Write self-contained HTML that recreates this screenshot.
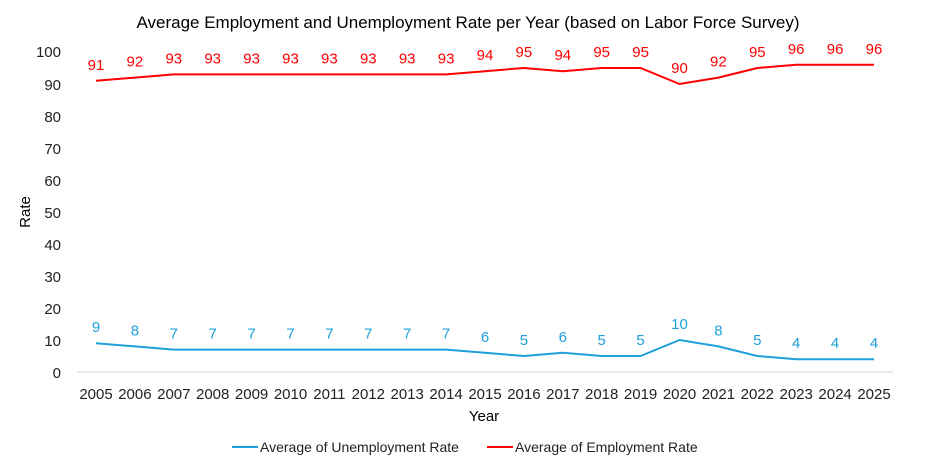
<!DOCTYPE html>
<html><head><style>body{margin:0;background:#fff}svg{display:block}</style></head><body>
<svg width="936" height="464" xmlns="http://www.w3.org/2000/svg" font-family="Liberation Sans, Arial, sans-serif">
<rect width="936" height="464" fill="#fff"/>
<text x="468" y="28" text-anchor="middle" font-size="17" fill="#000">Average Employment and Unemployment Rate per Year (based on Labor Force Survey)</text>
<g font-size="15" fill="#222" text-anchor="end">
<text x="61" y="57">100</text><text x="61" y="90">90</text><text x="61" y="122">80</text><text x="61" y="154">70</text><text x="61" y="186">60</text><text x="61" y="218">50</text><text x="61" y="250">40</text><text x="61" y="282">30</text><text x="61" y="314">20</text><text x="61" y="346">10</text><text x="61" y="378">0</text>
</g>
<text transform="translate(30,212) rotate(-90)" text-anchor="middle" font-size="15" fill="#000">Rate</text>
<line x1="77" y1="372" x2="893" y2="372" stroke="#d0d0d0" stroke-width="1"/>
<g id="yrs" font-size="15" fill="#222" text-anchor="middle"></g>
<text x="484" y="421" text-anchor="middle" font-size="15" fill="#000">Year</text>
<polyline id="emp" fill="none" stroke="#ff0000" stroke-width="2"/>
<polyline id="une" fill="none" stroke="#1fa0db" stroke-width="2"/>
<g id="el" font-size="15" fill="#ff0000" text-anchor="middle"></g>
<g id="ul" font-size="15" fill="#1fa0db" text-anchor="middle"></g>
<line x1="232" y1="447" x2="258" y2="447" stroke="#1fa0db" stroke-width="2"/>
<text x="260" y="452" font-size="14" fill="#222">Average of Unemployment Rate</text>
<line x1="487" y1="447" x2="513" y2="447" stroke="#ff0000" stroke-width="2"/>
<text x="515" y="452" font-size="14" fill="#222">Average of Employment Rate</text>
</svg>
<script>
var e=[91,92,93,93,93,93,93,93,93,93,94,95,94,95,95,90,92,95,96,96,96];
var u=[9,8,7,7,7,7,7,7,7,7,6,5,6,5,5,10,8,5,4,4,4];
var ns="http://www.w3.org/2000/svg";
function X(i){return 96+i*38.9}function Y(v){return 372-3.2*v}
function t(g,x,y,s){var n=document.createElementNS(ns,"text");n.setAttribute("x",x);n.setAttribute("y",y);n.textContent=s;document.getElementById(g).appendChild(n)}
var pe=[],pu=[];
for(var i=0;i<21;i++){pe.push(X(i)+","+Y(e[i]));pu.push(X(i)+","+Y(u[i]));
t("yrs",X(i),399,2005+i);t("el",X(i),Y(e[i])-11,e[i]);t("ul",X(i),Y(u[i])-11,u[i]);}
document.getElementById("emp").setAttribute("points",pe.join(" "));
document.getElementById("une").setAttribute("points",pu.join(" "));
</script>
</body></html>
